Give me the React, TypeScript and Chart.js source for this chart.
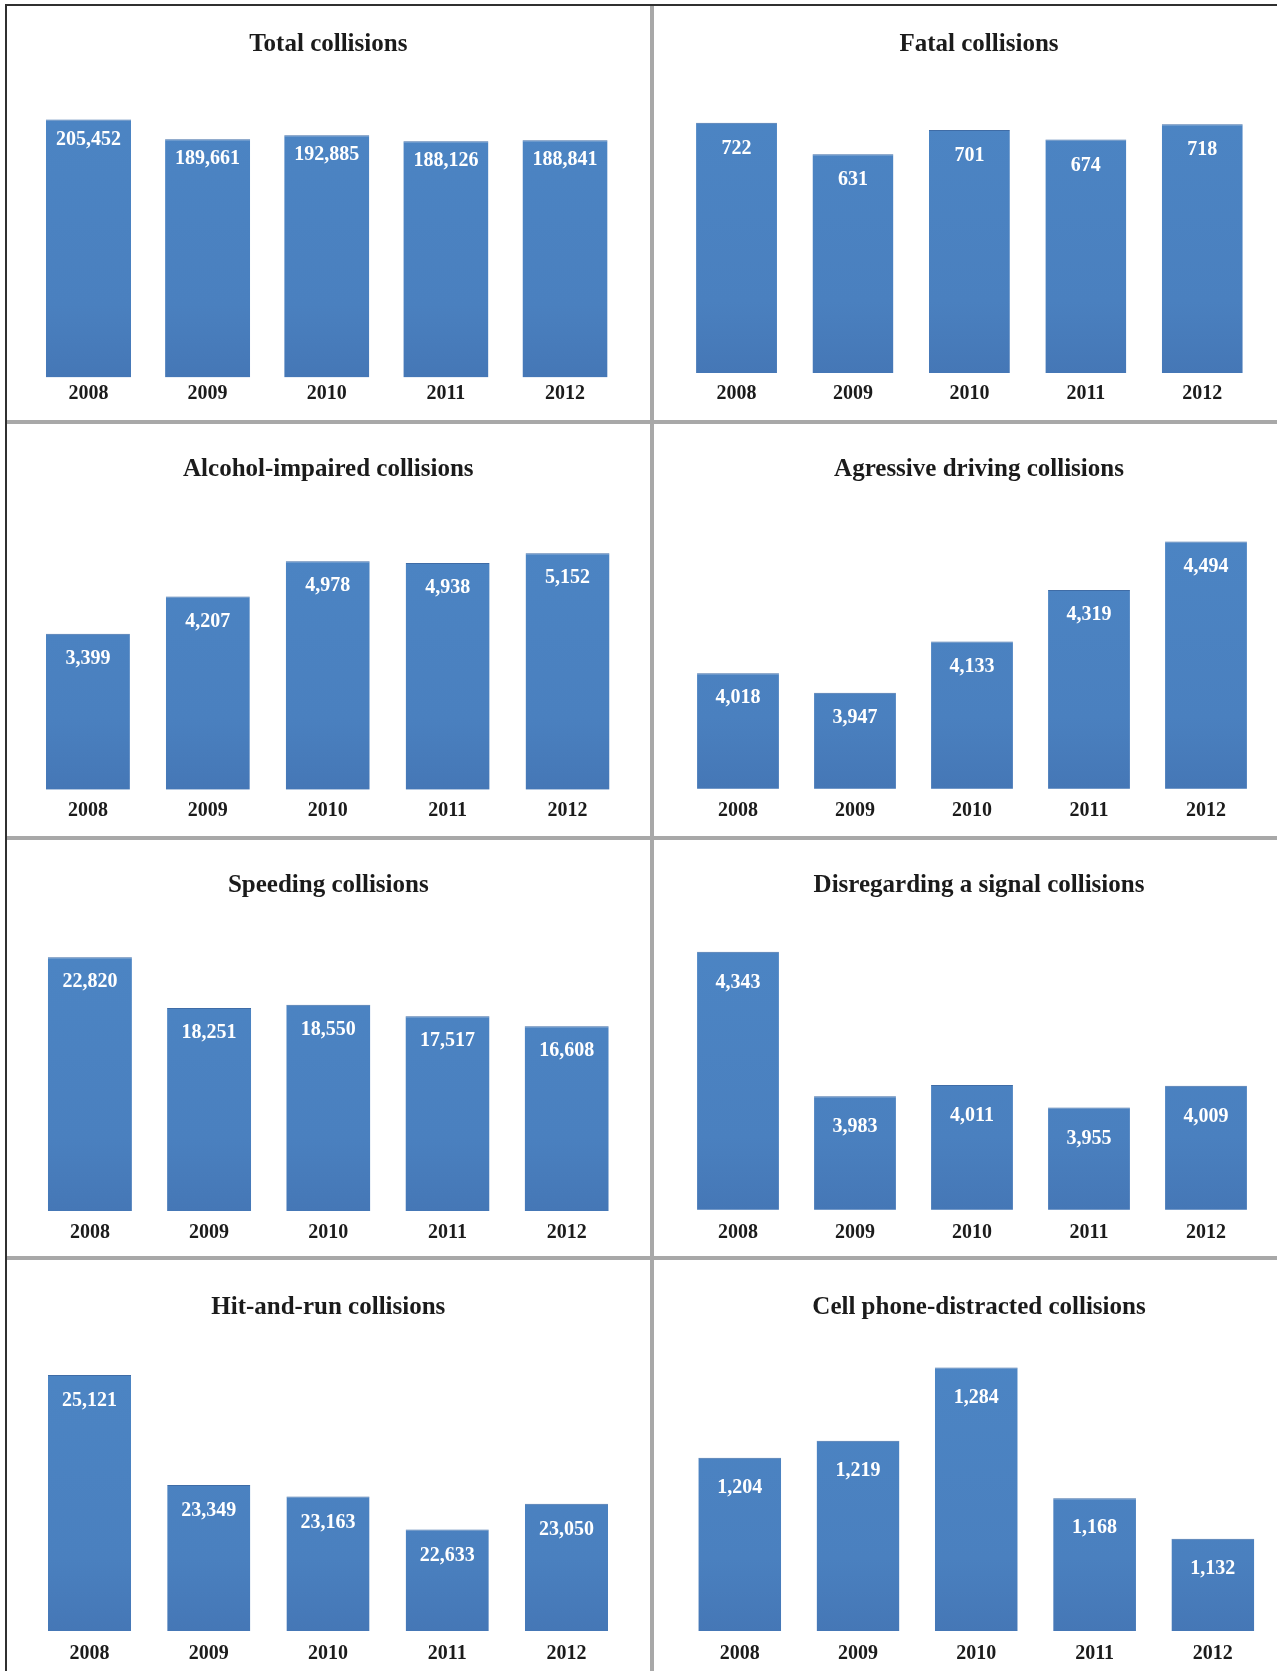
import React, { useEffect, useRef } from "react";
import { Chart, registerables } from "chart.js";

Chart.register(...registerables);

// ---- data -------------------------------------------------------------
const YEARS = ["2008", "2009", "2010", "2011", "2012"];

const TITLES = [
  "Total collisions",
  "Fatal collisions",
  "Alcohol-impaired collisions",
  "Agressive driving collisions",
  "Speeding collisions",
  "Disregarding a signal collisions",
  "Hit-and-run collisions",
  "Cell phone-distracted collisions",
];

const TOTAL = [205452, 189661, 192885, 188126, 188841];
const FATAL = [722, 631, 701, 674, 718];
const ALCOHOL = [3399, 4207, 4978, 4938, 5152];
const AGGRESSIVE = [4018, 3947, 4133, 4319, 4494];
const SPEEDING = [22820, 18251, 18550, 17517, 16608];
const SIGNAL = [4343, 3983, 4011, 3955, 4009];
const HIT_AND_RUN = [25121, 23349, 23163, 22633, 23050];
const CELL_PHONE = [1204, 1219, 1284, 1168, 1132];

// value-axis ranges (axis itself is hidden)
const Y_MIN = [0, 0, 0, 3600, 0, 3700, 21000, 1050];
const Y_MAX = [232040, 828, 6223, 4630, 26166, 4422, 25684, 1308.5];

const SERIES = [TOTAL, FATAL, ALCOHOL, AGGRESSIVE, SPEEDING, SIGNAL, HIT_AND_RUN, CELL_PHONE];

// ---- page geometry ----------------------------------------------------
const PAGE_W = 1277;
const PAGE_H = 1671;
const ROW_TOP = [6, 422, 838, 1256];
const ROW_H = [414, 414, 418, 415];
const COL_X = [7, 654];
const COL_W = [643, 640];

type Geo = {
  L: number; R: number; T: number; B: number;
  tx: number; ty: number; labelY: number;
  bar: number; valueOffset: number;
};

// plot-area edges, title centre and tick-label centre in page pixels
const GEO: Geo[] = [
  { L: 28.9, R: 624.6, T: 86, B: 377.5, tx: 328.3, ty: 44.5, labelY: 394, bar: 0.714, valueOffset: 20 },
  { L: 678.3, R: 1260.5, T: 86, B: 373, tx: 979, ty: 44.5, labelY: 394, bar: 0.695, valueOffset: 26 },
  { L: 28, R: 627.5, T: 504, B: 789.8, tx: 328.3, ty: 469.8, labelY: 811, bar: 0.7, valueOffset: 25 },
  { L: 679.5, R: 1264.5, T: 504, B: 788.8, tx: 979, ty: 469.8, labelY: 811, bar: 0.7, valueOffset: 25 },
  { L: 30.3, R: 627.3, T: 920, B: 1210.9, tx: 328.3, ty: 885.5, labelY: 1233, bar: 0.705, valueOffset: 25 },
  { L: 679.5, R: 1264.5, T: 920, B: 1209.8, tx: 979, ty: 885.5, labelY: 1233, bar: 0.7, valueOffset: 31 },
  { L: 29.9, R: 626.1, T: 1340, B: 1631, tx: 328.3, ty: 1307.5, labelY: 1654, bar: 0.697, valueOffset: 26 },
  { L: 680.6, R: 1272, T: 1340, B: 1631, tx: 979, ty: 1307.5, labelY: 1654, bar: 0.7, valueOffset: 30 },
];

const FONT = '"Liberation Serif", "Times New Roman", serif';
const TITLE_SIZE = 25;
const TICK_SIZE = 20;
const VALUE_SIZE = 20;
const TEXT = "#1b1b1b";

const valueLabels = {
  id: "valueLabels",
  afterDatasetsDraw(chart: any, _args: any, opts: any) {
    const { ctx } = chart;
    const meta = chart.getDatasetMeta(0);
    const data = chart.data.datasets[0].data as number[];
    ctx.save();
    ctx.font = `bold ${VALUE_SIZE}px ${FONT}`;
    ctx.fillStyle = "#ffffff";
    ctx.textAlign = "center";
    ctx.textBaseline = "middle";
    meta.data.forEach((el: any, i: number) => {
      ctx.fillText(data[i].toLocaleString("en-US"), el.x, el.y + opts.offset);
    });
    ctx.restore();
  },
};

function Panel({ index }: { index: number }) {
  const ref = useRef<HTMLCanvasElement>(null);
  const row = Math.floor(index / 2);
  const col = index % 2;
  const cx = COL_X[col];
  const cy = ROW_TOP[row];
  const cw = COL_W[col];
  const ch = ROW_H[row];

  useEffect(() => {
    const g = GEO[index];
    const aL = g.L - cx;
    const aR = g.R - cx;
    const aT = g.T - cy;
    const aB = g.B - cy;
    const tc = g.tx - cx;
    const ty = g.ty - cy;
    const lab = g.labelY - cy;

    const padL = aL;
    const padR = Math.max(0, aL + cw - 2 * tc);
    const yAxisW = Math.max(0, cw - padR - aR);
    const titleLH = TITLE_SIZE * 1.2;
    const tickLH = TICK_SIZE * 1.2;

    const chart = new Chart(ref.current!, {
      type: "bar",
      data: {
        labels: YEARS,
        datasets: [
          {
            data: SERIES[index],
            backgroundColor: (c: any) => {
              const area = c.chart.chartArea;
              if (!area) return "#4a81c0";
              const grad = c.chart.ctx.createLinearGradient(0, area.top, 0, area.bottom);
              grad.addColorStop(0, "#4c85c4");
              grad.addColorStop(0.75, "#4a80bf");
              grad.addColorStop(1, "#4577b6");
              return grad;
            },
            borderColor: "#3f6ca6",
            borderWidth: { top: 1, left: 0, right: 0, bottom: 0 },
            borderSkipped: "start",
            categoryPercentage: 1,
            barPercentage: g.bar,
          },
        ],
      },
      options: {
        responsive: false,
        animation: false,
        devicePixelRatio: 1,
        layout: { padding: { left: padL, right: padR, top: 0, bottom: 0 } },
        plugins: {
          legend: { display: false },
          tooltip: { enabled: false },
          title: {
            display: true,
            text: TITLES[index],
            color: TEXT,
            font: { family: FONT, size: TITLE_SIZE, weight: "bold", lineHeight: 1.2 },
            padding: { top: ty - titleLH / 2, bottom: aT - ty - titleLH / 2 },
          },
          valueLabels: { offset: g.valueOffset },
        } as any,
        scales: {
          x: {
            grid: { display: false, drawTicks: false },
            border: { display: false },
            ticks: {
              color: TEXT,
              font: { family: FONT, size: TICK_SIZE, weight: "bold", lineHeight: 1.2 },
              padding: lab - aB - tickLH / 2,
              maxRotation: 0,
              autoSkip: false,
            },
            afterFit: (s: any) => {
              s.height = ch - aB;
            },
          },
          y: {
            position: "right",
            min: Y_MIN[index],
            max: Y_MAX[index],
            grid: { display: false, drawTicks: false },
            border: { display: false },
            ticks: { display: false },
            afterFit: (s: any) => {
              s.width = yAxisW;
            },
          },
        },
      },
      plugins: [valueLabels],
    });
    return () => chart.destroy();
  }, [index, cx, cy, cw, ch]);

  return (
    <canvas
      ref={ref}
      width={cw}
      height={ch}
      style={{ position: "absolute", left: cx, top: cy, width: cw, height: ch }}
    />
  );
}

export default function App() {
  const line = (s: React.CSSProperties) => (
    <div style={{ position: "absolute", zIndex: 2, ...s }} />
  );
  return (
    <>
      <style>{"body{margin:0;background:#fff;}"}</style>
      <div
        style={{
          position: "relative",
          width: PAGE_W,
          height: PAGE_H,
          overflow: "hidden",
          background: "#ffffff",
        }}
      >
        {TITLES.map((_, i) => (
          <Panel key={i} index={i} />
        ))}
        {/* outer frame */}
        {line({ left: 5, top: 4, width: PAGE_W - 5, height: 2, background: "#303030" })}
        {line({ left: 5, top: 4, width: 2, height: PAGE_H - 4, background: "#303030" })}
        {/* grey panel dividers */}
        {line({ left: 650, top: 6, width: 4, height: PAGE_H - 6, background: "#a8a8a8" })}
        {[420, 836, 1256].map((y) =>
          <div key={y} style={{ position: "absolute", zIndex: 2, left: 7, top: y, width: PAGE_W - 7, height: 4, background: "#a8a8a8" }} />
        )}
      </div>
    </>
  );
}
